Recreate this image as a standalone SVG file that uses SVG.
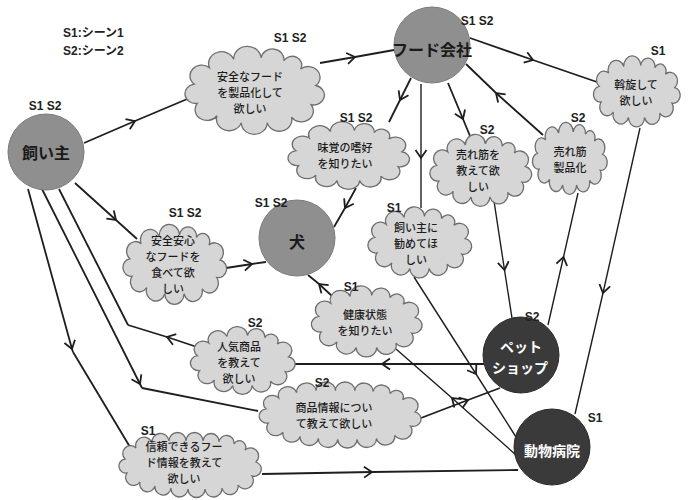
<svg xmlns="http://www.w3.org/2000/svg" width="692" height="500" viewBox="0 0 692 500">
<style>
.bg{fill:#ffffff}
.cloud{fill:#d6d6d6;stroke:#6e6e6e}
.nodeL{fill:#8f8f8f;stroke:#7a7a7a;stroke-width:1}
.nodeD{fill:#3a3a3a;stroke:#2a2a2a;stroke-width:1}
.ct{font-family:'Noto Sans CJK JP',sans-serif;font-size:11px;font-weight:500;fill:#1c1c1c;text-anchor:middle}
.nt{font-family:'Noto Sans CJK JP',sans-serif;font-size:16px;font-weight:bold;fill:#1a1a1a;text-anchor:middle}
.ntw{font-family:'Noto Sans CJK JP',sans-serif;font-size:14px;font-weight:bold;fill:#ffffff;text-anchor:middle}
.sl{font-family:'Liberation Sans',Arial,sans-serif;font-size:12px;font-weight:bold;fill:#222;text-anchor:middle}
.lg{font-family:'Liberation Sans','Noto Sans CJK JP',sans-serif;font-size:12px;font-weight:bold;fill:#222}
.ln{fill:none;stroke:#1e1e1e;stroke-width:1.8}
.lt{fill:none;stroke:#1e1e1e;stroke-width:1.4}
.ar{marker-mid:url(#arr)}
</style>
<defs>
<marker id="arr" markerUnits="userSpaceOnUse" markerWidth="16" markerHeight="16" viewBox="-10 -8 16 16" refX="0" refY="0" orient="auto">
<path d="M-8,-5.5 L0,0 L-8,5.5" fill="none" stroke="#1e1e1e" stroke-width="1.8"/>
</marker>
<path id="cl" vector-effect="non-scaling-stroke" stroke-width="1.3" d="M30,-16 A7.7,7.7 0 0 1 40,-4 A7,7 0 0 1 37,10 A7.8,7.8 0 0 1 24,19 A8.1,8.1 0 0 1 8,23 A8.4,8.4 0 0 1 -9,23 A8.3,8.3 0 0 1 -25,18 A7.8,7.8 0 0 1 -38,9 A7,7 0 0 1 -40,-5 A7.7,7.7 0 0 1 -30,-17 A8.4,8.4 0 0 1 -14,-23 A8.9,8.9 0 0 1 4,-24 A7.5,7.5 0 0 1 19,-22 A6.2,6.2 0 0 1 30,-16 Z"/>
<path id="clw" vector-effect="non-scaling-stroke" stroke-width="1.3" d="M55,-15 A8,8 0 0 1 66,-3 A7.2,7.2 0 0 1 62,11 A8.2,8.2 0 0 1 48,20 A8,8 0 0 1 32,23 A8.4,8.4 0 0 1 15,24 A8.4,8.4 0 0 1 -2,24 A8.4,8.4 0 0 1 -19,23 A8,8 0 0 1 -35,21 A7.7,7.7 0 0 1 -50,17 A7.8,7.8 0 0 1 -63,8 A7,7 0 0 1 -65,-6 A7.7,7.7 0 0 1 -54,-17 A8.3,8.3 0 0 1 -38,-22 A8.5,8.5 0 0 1 -21,-24 A8.4,8.4 0 0 1 -4,-24 A8.4,8.4 0 0 1 13,-24 A7.9,7.9 0 0 1 29,-23 A7.5,7.5 0 0 1 44,-21 A6.2,6.2 0 0 1 55,-15 Z"/>
</defs>
<rect class="bg" x="0" y="0" width="692" height="500"/>

<g id="legend">
<text class="lg" x="63" y="37">S1:シーン1</text>
<text class="lg" x="63" y="55">S2:シーン2</text>
</g>

<g id="connectors">
<path class="ln ar" d="M84,143 L135,121 L192,97"/>
<path class="ln ar" d="M320,63 L355,57 L394,50"/>
<path class="ln ar" d="M411,78 L400,100 L389,122"/>
<path class="ln ar" d="M356,188 L345,208 L334,227"/>
<path class="lt ar" d="M421,84 L421,158 L421,208"/>
<path class="lt ar" d="M414,277 L476,374 L516,437"/>
<path class="lt ar" d="M516,455 L452,398 L396,349"/>
<path class="ln ar" d="M332,296 L319,284 L308,275"/>
<path class="ln ar" d="M484,364 L382,364 L295,364"/>
<path class="ln ar" d="M200,348 L167,337 L128,325"/>
<path class="ln" d="M128,325 L59,189"/>
<path class="ln ar" d="M42,189 L140,384 L142,388"/>
<path class="ln" d="M142,388 L258,411"/>
<path class="ln ar" d="M28,189 L72,349 L73,352"/>
<path class="ln" d="M73,352 L130,447"/>
<path class="ln ar" d="M262,474 L372,472 L518,470"/>
<path class="ln ar" d="M75,183 L116,220 L137,239"/>
<path class="ln ar" d="M226,268 L252,264 L266,262"/>
<path class="ln ar" d="M470,38 L533,60 L597,82"/>
<path class="lt ar" d="M640,128 L603,293 L575,414"/>
<path class="ln ar" d="M448,83 L463,119 L470,136"/>
<path class="lt ar" d="M494,201 L504.5,270 L512,318"/>
<path class="lt ar" d="M548,325 L563.5,257 L578,193"/>
<path class="ln ar" d="M543,135 L496,93 L466,64"/>
<path class="ln ar" d="M421,418 L468,400 L500,388"/>
</g>

<g id="owner">
<circle class="nodeL" cx="46" cy="152" r="38"/>
<text class="nt" x="46" y="159">飼い主</text>
<text class="sl" x="45" y="110">S1 S2</text>
</g>
<g id="food-company">
<circle class="nodeL" cx="432" cy="45" r="38"/>
<text class="nt" x="432" y="56" font-size="15.5">フード会社</text>
<text class="sl" x="477" y="25">S1 S2</text>
</g>
<g id="dog">
<circle class="nodeL" cx="297" cy="238" r="38"/>
<text class="nt" x="297" y="248">犬</text>
<text class="sl" x="271" y="207">S1 S2</text>
</g>
<g id="pet-shop">
<circle class="nodeD" cx="521" cy="355" r="38"/>
<text class="ntw" x="521" y="352">ペット<tspan x="520" dy="21">ショップ</tspan></text>
<text class="sl" x="532" y="321">S2</text>
</g>
<g id="animal-hospital">
<circle class="nodeD" cx="552" cy="447" r="38"/>
<text class="ntw" x="552" y="456" font-size="16.5">動物病院</text>
<text class="sl" x="595" y="422">S1</text>
</g>

<g id="c-safe-food">
<use href="#cl" class="cloud" transform="translate(255,91) scale(1.52,1.375)"/>
<text class="ct" x="250" y="80.5">安全なフード<tspan x="250" dy="16">を製品化して</tspan><tspan x="250" dy="16">欲しい</tspan></text>
<text class="sl" x="290" y="42">S1 S2</text>
</g>
<g id="c-taste">
<use href="#cl" class="cloud" transform="translate(349,156) scale(1.326,1.06)"/>
<text class="ct" x="345" y="152">味覚の嗜好<tspan x="345" dy="16">を知りたい</tspan></text>
<text class="sl" x="356" y="122">S1 S2</text>
</g>
<g id="c-tell-bestseller">
<use href="#cl" class="cloud" transform="translate(481,171) scale(1.109,1.125)"/>
<text class="ct" x="478" y="158.5">売れ筋を<tspan x="478" dy="16">教えて欲</tspan><tspan x="478" dy="16">しい</tspan></text>
<text class="sl" x="487" y="134">S2</text>
</g>
<g id="c-bestseller-product">
<use href="#cl" class="cloud" transform="translate(570,159) scale(0.815,1.125)"/>
<text class="ct" x="570" y="156">売れ筋<tspan x="570" dy="16">製品化</tspan></text>
<text class="sl" x="578" y="122">S2</text>
</g>
<g id="c-mediate">
<use href="#cl" class="cloud" transform="translate(637,92) scale(0.946,1.109)"/>
<text class="ct" x="636" y="89">斡旋して<tspan x="636" dy="16">欲しい</tspan></text>
<text class="sl" x="658" y="55">S1</text>
</g>
<g id="c-recommend">
<use href="#cl" class="cloud" transform="translate(420,243) scale(1.13,1.109)"/>
<text class="ct" x="416" y="231.5">飼い主に<tspan x="416" dy="16">勧めてほ</tspan><tspan x="416" dy="16">しい</tspan></text>
<text class="sl" x="394" y="212">S1</text>
</g>
<g id="c-safe-eat">
<use href="#cl" class="cloud" transform="translate(175,265) scale(1.13,1.25)"/>
<text class="ct" x="173" y="245">安全安心<tspan x="173" dy="16">なフードを</tspan><tspan x="173" dy="16">食べて欲</tspan><tspan x="173" dy="16">しい</tspan></text>
<text class="sl" x="185" y="217">S1 S2</text>
</g>
<g id="c-health">
<use href="#cl" class="cloud" transform="translate(367,322) scale(1.207,1.109)"/>
<text class="ct" x="365" y="318.5">健康状態<tspan x="365" dy="16">を知りたい</tspan></text>
<text class="sl" x="351" y="291">S1</text>
</g>
<g id="c-popular">
<use href="#cl" class="cloud" transform="translate(243,361) scale(1.141,1.06)"/>
<text class="ct" x="239" y="350.5">人気商品<tspan x="239" dy="16">を教えて</tspan><tspan x="239" dy="16">欲しい</tspan></text>
<text class="sl" x="255" y="327">S2</text>
</g>
<g id="c-product-info">
<use href="#clw" class="cloud" transform="translate(340,415) scale(1.138,1.015)"/>
<text class="ct" x="334" y="412">商品情報につい<tspan x="334" dy="16">て教えて欲しい</tspan></text>
<text class="sl" x="322" y="387">S2</text>
</g>
<g id="c-trust-info">
<use href="#clw" class="cloud" transform="translate(190,465) scale(1,1)"/>
<text class="ct" x="184" y="451">信頼できるフー<tspan x="184" dy="16">ド情報を教えて</tspan><tspan x="184" dy="16">欲しい</tspan></text>
<text class="sl" x="148" y="435">S1</text>
</g>
</svg>
